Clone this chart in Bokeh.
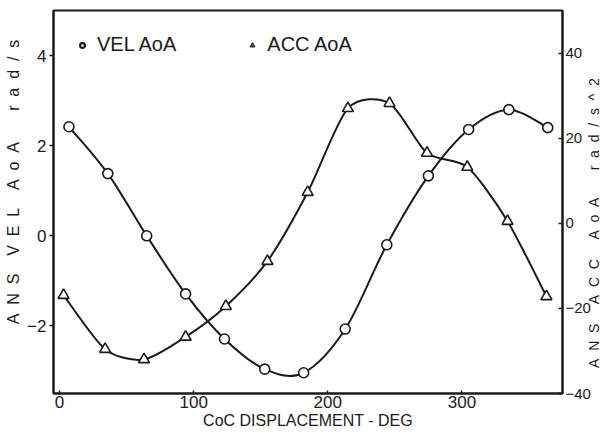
import math
from bokeh.plotting import figure
from bokeh.models import Range1d, LinearAxis, Legend, LegendItem, FixedTicker
from bokeh.embed import file_html
from bokeh.resources import INLINE

# ---- data ----
vel_deg = [7, 36, 65, 94, 123, 153, 182, 213, 244, 275, 305, 335, 364]
vel_aoa = [2.42, 1.38, 0.0, -1.29, -2.29, -2.96, -3.04, -2.07, -0.2, 1.33, 2.36, 2.8, 2.4]
acc_deg = [3, 34, 63, 94, 124, 155, 185, 215, 246, 274, 304, 334, 363]
acc_aoa = [-16.9, -29.6, -32.0, -26.7, -19.5, -8.9, 7.3, 27.0, 28.2, 16.5, 13.2, 0.5, -17.2]

x_ticks = [0, 100, 200, 300]
vel_ticks = [-2, 0, 2, 4]
acc_ticks = [-40, -20, 0, 20, 40]

FONT = "Liberation Sans"
INK = "#1a1a1a"
NB = "\u00a0"


def spaced(words, gaps, g=2):
    out = ""
    for i, w in enumerate(words):
        out += (NB * g).join(w)
        if i < len(gaps):
            out += NB * gaps[i]
    return out


def catmull_rom(xs, ys, t=1.0 / 6.0):
    n = len(xs)
    out = {k: [] for k in ("x0", "y0", "x1", "y1", "cx0", "cy0", "cx1", "cy1")}
    for i in range(n - 1):
        xa, ya = xs[i], ys[i]
        xb, yb = xs[i + 1], ys[i + 1]
        xp, yp = (xs[i - 1], ys[i - 1]) if i > 0 else (xa, ya)
        xn, yn = (xs[i + 2], ys[i + 2]) if i + 2 < n else (xb, yb)
        out["x0"].append(xa); out["y0"].append(ya)
        out["x1"].append(xb); out["y1"].append(yb)
        out["cx0"].append(xa + (xb - xp) * t); out["cy0"].append(ya + (yb - yp) * t)
        out["cx1"].append(xb - (xn - xa) * t); out["cy1"].append(yb - (yn - ya) * t)
    return out


p = figure(width=613, height=439, output_backend="svg", toolbar_location=None,
           x_range=Range1d(-4.5, 375), y_range=Range1d(-3.5, 5.0),
           min_border_left=53, min_border_right=49, min_border_top=10, min_border_bottom=46)
p.extra_y_ranges = {"acc": Range1d(-40, 50)}

p.background_fill_color = "white"
p.border_fill_color = "white"
p.outline_line_color = INK
p.outline_line_width = 2
p.xgrid.visible = False
p.ygrid.visible = False

# curves
vb = catmull_rom(vel_deg, vel_aoa)
p.bezier(x0=vb["x0"], y0=vb["y0"], x1=vb["x1"], y1=vb["y1"], cx0=vb["cx0"], cy0=vb["cy0"],
         cx1=vb["cx1"], cy1=vb["cy1"], line_color=INK, line_width=2)
ab = catmull_rom(acc_deg, acc_aoa, t=0.13)
p.bezier(x0=ab["x0"], y0=ab["y0"], x1=ab["x1"], y1=ab["y1"], cx0=ab["cx0"], cy0=ab["cy0"],
         cx1=ab["cx1"], cy1=ab["cy1"], line_color=INK, line_width=2, y_range_name="acc")

p.scatter(vel_deg, vel_aoa, marker="circle", size=10, fill_color="white",
          line_color=INK, line_width=1.6)
p.scatter(acc_deg, acc_aoa, marker="triangle", size=11, fill_color="white",
          line_color=INK, line_width=1.6, y_range_name="acc")

# legend proxies
lv = p.scatter([vel_deg[0]], [vel_aoa[0]], marker="circle", size=7, fill_color="white",
               line_color=INK, line_width=2.2, visible=False)
la = p.scatter([acc_deg[0]], [acc_aoa[0]], marker="triangle", size=7, fill_color="#555555",
               line_color="#333333", line_width=1.2, y_range_name="acc", visible=False)
legend = Legend(items=[LegendItem(label="VEL AoA", renderers=[lv]),
                       LegendItem(label="ACC AoA", renderers=[la])],
                orientation="horizontal", location=(23, 337),
                glyph_width=12, glyph_height=20, label_standoff=9, spacing=70,
                padding=0, margin=0, border_line_color=None, background_fill_alpha=0,
                label_text_font=FONT, label_text_font_size="20px", label_text_color=INK)
p.add_layout(legend, "center")

# axes
xa = p.xaxis[0]
xa.ticker = FixedTicker(ticks=x_ticks)
xa.axis_label = "CoC DISPLACEMENT - DEG"
xa.major_tick_in = 3
xa.major_tick_out = 0
xa.minor_tick_in = 0
xa.minor_tick_out = 0
xa.major_label_standoff = 2
xa.axis_label_standoff = 1

ya = p.yaxis[0]
ya.ticker = FixedTicker(ticks=vel_ticks)
ya.axis_label = NB * 9 + spaced(["ANS", "VEL", "AoA", "rad/s"], [4, 4, 7])
ya.major_tick_in = 0
ya.major_tick_out = 4
ya.minor_tick_in = 0
ya.minor_tick_out = 0
ya.major_label_standoff = 3
ya.axis_label_standoff = 2

ra = LinearAxis(y_range_name="acc", ticker=FixedTicker(ticks=acc_ticks))
ra.major_tick_in = 4
ra.major_tick_out = 0
ra.minor_tick_in = 0
ra.minor_tick_out = 0
ra.major_label_standoff = 3
p.add_layout(ra, "right")

# right-hand title, reading bottom-to-top, drawn as the single label of a bare axis
right_title = spaced(["ANS", "ACC", "AoA", "rad/s^2"], [5, 5, 7])
title_start = -34
rt = LinearAxis(y_range_name="acc", ticker=FixedTicker(ticks=[title_start]),
                major_label_overrides={title_start: right_title},
                axis_line_color=None, major_tick_line_color=None,
                minor_tick_line_color=None, major_label_orientation=math.pi / 2,
                major_label_standoff=-5, major_label_text_font=FONT,
                major_label_text_font_size="14px", major_label_text_color=INK)
p.add_layout(rt, "right")

for ax in (xa, ya, ra):
    ax.axis_line_color = INK
    ax.axis_line_width = 2
    ax.major_tick_line_color = INK
    ax.major_tick_line_width = 1.5
    ax.major_label_text_font = FONT
    ax.major_label_text_font_size = "17px"
    ax.major_label_text_color = INK
    ax.axis_label_text_font = FONT
    ax.axis_label_text_font_style = "normal"
    ax.axis_label_text_color = INK
xa.axis_label_text_font_size = "16px"
ya.axis_label_text_font_size = "16px"
ra.major_label_text_font_size = "15px"

open("out.html", "w").write(file_html(p, INLINE))
